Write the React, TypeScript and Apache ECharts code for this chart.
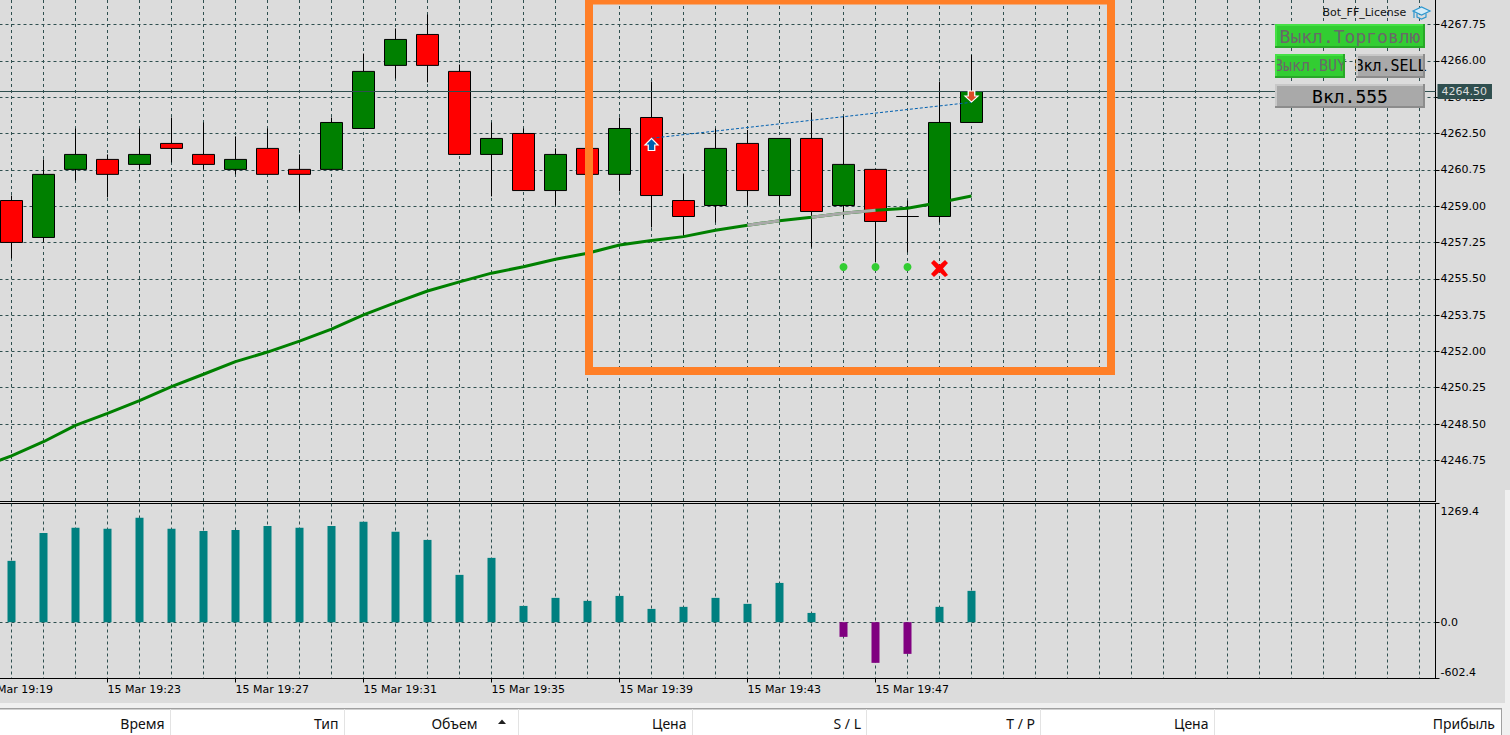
import React, { useEffect, useRef } from "react";
import * as echarts from "echarts";

const minutes = [
  "19:19","19:20","19:21","19:22","19:23","19:24","19:25","19:26","19:27","19:28","19:29","19:30",
  "19:31","19:32","19:33","19:34","19:35","19:36","19:37","19:38","19:39","19:40","19:41","19:42",
  "19:43","19:44","19:45","19:46","19:47","19:48","19:49","19:50","19:51","19:52","19:53","19:54",
  "19:55","19:56","19:57","19:58","19:59","20:00","20:01","20:02","20:03","20:04",
];
const categories = minutes.map((m) => "15 Mar " + m);

const opens = [4259.27,4257.49,4260.77,4261.25,4261.01,4262.02,4261.49,4260.77,4261.78,4260.77,4260.77,4262.74,4265.78,4267.27,4265.49,4261.49,4262.50,4259.75,4261.78,4260.53,4263.27,4259.27,4259.03,4262.02,4259.51,4262.26,4259.03,4260.77,4258.50,4258.50,4263.03];
const closes = [4257.25,4260.53,4261.49,4260.53,4261.49,4261.78,4261.01,4261.25,4260.53,4260.53,4263.03,4265.49,4267.03,4265.78,4261.49,4262.26,4259.75,4261.49,4260.53,4262.74,4259.51,4258.50,4261.78,4259.75,4262.26,4258.74,4261.01,4258.26,4258.50,4263.03,4264.52];
const lows = [4256.48,4257.25,4260.24,4259.42,4260.77,4261.10,4260.77,4260.53,4260.53,4258.74,4260.77,4262.74,4265.15,4264.96,4261.49,4259.47,4259.75,4259.03,4260.53,4259.71,4257.97,4257.54,4258.21,4259.03,4259.03,4257.01,4258.50,4256.29,4256.77,4258.21,4263.03];
const highs = [4259.51,4261.25,4262.74,4261.49,4262.74,4263.27,4263.03,4262.36,4262.74,4261.49,4263.27,4266.35,4267.56,4268.23,4265.82,4263.03,4262.74,4261.78,4261.78,4263.27,4265.00,4260.57,4262.74,4262.67,4262.26,4263.51,4263.32,4260.77,4259.27,4265.00,4266.28];

const maValues = [4246.39,4246.97,4247.65,4248.44,4249.02,4249.63,4250.30,4250.90,4251.51,4251.97,4252.50,4253.07,4253.76,4254.35,4254.91,4255.35,4255.77,4256.08,4256.44,4256.73,4257.13,4257.34,4257.53,4257.84,4258.08,4258.30,4258.46,4258.66,4258.80,4258.90,4259.17,4259.49];
const maGrayRunA = [24, 25];
const maGrayRunB = [26, 27, 28];

const histValues = [656,955,1009,998,1116,998,976,987,1030,1009,1030,1073,966,880,506,688,174,260,228,281,142,164,260,196,420,99,-157,-435,-339,164,335];

const priceTicks = [4267.75,4266.0,4264.25,4262.5,4260.75,4259.0,4257.25,4255.5,4253.75,4252.0,4250.25,4248.5,4246.75];
const priceMin = 4244.77;
const priceMax = 4268.93;
const histTicks = [-602.4, 0, 1269.4];
const bidLevel = 4264.52;
const bidLabel = "4264.50";

const dotBars = [27, 28, 29];
const dotPrice = 4256.07;
const failBar = 30;
const failPrice = 4255.99;
const entryBar = 21;
const entryArrowPrice = 4261.97;
const exitBar = 31;
const exitArrowPrice = 4264.28;
const tradeOpenPrice = 4262.27;
const tradeClosePrice = 4264.0;

const tableHeaders: [string, number][] = [
  ["Время", 164.5],["Тип", 338.5],["Объем", 477.5],["Цена", 686.5],["S / L", 861],["T / P", 1035],["Цена", 1208.5],["Прибыль", 1495],
];
const tableSeparators = [170.5, 344.5, 518.5, 692.5, 866.5, 1040.5, 1214.5];

const INK = "#000000";
const GRID = "#2F4F4F";
const BG = "#DCDCDC";
const UI = "DejaVu Sans";
const MONO = "DejaVu Sans Mono";
const ORANGE = "#FF7F27";

const X_PATH = "path://M0 3 L3 0 L8.5 5 L14 0 L17 3 L12 8.5 L17 15 L14 17 L8.5 12 L3 17 L0 14 L5 8.5 Z";
const UP_PATH = "path://M6 0 L12 6 L9 6 L9 11 L3 11 L3 6 L0 6 Z";
const DOWN_PATH = "path://M3 0 L9 0 L9 5 L12 5 L6 11 L0 5 L3 5 Z";

function button(x: number, y: number, w: number, h: number, label: string, fontSize: number, fill: string, light: string, dark: string, textColor: string) {
  const b = 2;
  return [
    { type: "rect", z: 20, shape: { x, y, width: w, height: h }, style: { fill } },
    { type: "text", z: 21, style: { text: label, x: x + w / 2, y: y + h / 2, fill: textColor, fontFamily: MONO, fontSize, textAlign: "center", textVerticalAlign: "middle" } },
    { type: "rect", z: 22, shape: { x, y, width: w, height: b }, style: { fill: light } },
    { type: "rect", z: 22, shape: { x, y, width: b, height: h }, style: { fill: light } },
    { type: "rect", z: 22, shape: { x, y: y + h - b, width: w, height: b }, style: { fill: dark } },
    { type: "rect", z: 22, shape: { x: x + w - b, y, width: b, height: h }, style: { fill: dark } },
  ];
}

function tableElements() {
  const out: any[] = [
    { type: "rect", z: 15, shape: { x: 0, y: 703, width: 1510, height: 32 }, style: { fill: "#F0F0F0" } },
    { type: "rect", z: 15, shape: { x: 1505, y: 490, width: 5, height: 245 }, style: { fill: "#F0F0F0" } },
    { type: "rect", z: 16, shape: { x: 0, y: 708, width: 1502, height: 27 }, style: { fill: "#A0A0A0" } },
    { type: "rect", z: 17, shape: { x: 0, y: 709.5, width: 1501, height: 26 }, style: { fill: "#FFFFFF" } },
    { type: "polygon", z: 18, shape: { points: [[498, 724], [506, 724], [502, 719.5]] }, style: { fill: "#202020" } },
  ];
  tableSeparators.forEach((x) => {
    out.push({ type: "line", z: 18, shape: { x1: x, y1: 709, x2: x, y2: 735 }, style: { stroke: "#E3E3E3", lineWidth: 1 } });
  });
  tableHeaders.forEach(([text, x]) => {
    out.push({ type: "text", z: 18, style: { text, x, y: 723, fill: "#111111", fontFamily: "Noto Sans", fontSize: 14, textAlign: "right", textVerticalAlign: "middle" } });
  });
  return out;
}

function overlayElements() {
  return [
    { type: "rect", z: 30, shape: { x: 589, y: 0.5, width: 522, height: 370.5 }, style: { fill: "transparent", stroke: ORANGE, lineWidth: 8 } },
    { type: "text", z: 20, style: { text: "Bot_FF_License", x: 1322.5, y: 12.5, fill: "#111111", fontFamily: UI, fontSize: 11, textAlign: "left", textVerticalAlign: "middle" } },
    { type: "polygon", z: 20, shape: { points: [[1413, 11], [1421.5, 7], [1430, 11], [1421.5, 15]] }, style: { fill: "#D5ECF8", stroke: "#2E97CF", lineWidth: 1.2 } },
    { type: "polyline", z: 20, shape: { points: [[1417, 13.5], [1417, 17], [1421.5, 19], [1426, 17], [1426, 13.5]] }, style: { fill: "none", stroke: "#2E97CF", lineWidth: 1.2 } },
    { type: "line", z: 20, shape: { x1: 1414, y1: 11, x2: 1414, y2: 18 }, style: { stroke: "#2E97CF", lineWidth: 1.2 } },
    ...button(1275, 24, 150, 24, "Выкл.Торговлю", 18, "#32CD32", "#45E045", "#28A828", "#696969"),
    ...button(1275, 54, 70, 24, "Выкл.BUY", 15, "#32CD32", "#45E045", "#28A828", "#696969"),
    ...button(1356, 54, 69, 24, "Вкл.SELL", 15, "#A9A9A9", "#C8C8C8", "#8C8C8C", "#000000"),
    ...button(1275, 84, 150, 24, "Вкл.555", 18, "#A9A9A9", "#C8C8C8", "#8C8C8C", "#000000"),
  ];
}

function runOnly(run: number[]) {
  return maValues.map((v, i) => (run.includes(i) ? v : null));
}

function buildOption(): any {
  const candleData: any[] = [["-", "-", "-", "-"]].concat(
    opens.map((o, i) => [o, closes[i], lows[i], highs[i]]) as any
  );
  const histData: any[] = ["-", ...histValues];
  const tradeLine = categories.map((_, i) => (i === entryBar ? tradeOpenPrice : i === exitBar ? tradeClosePrice : null));
  const everyFour = (i: number) => i % 4 === 0 && i <= 28;
  const vSplit = { show: true, interval: 0, alignWithLabel: true, lineStyle: { color: GRID, type: [3, 3], width: 1 } };

  return {
    animation: false,
    backgroundColor: BG,
    textStyle: { fontFamily: UI },
    grid: [
      { left: -36.5, width: 1472, top: 0, height: 501.5, outerBoundsMode: "none" },
      { left: -36.5, width: 1472, top: 503.5, height: 175, outerBoundsMode: "none", show: true, borderColor: INK, borderWidth: 1, backgroundColor: "transparent" },
    ],
    xAxis: [
      {
        type: "category", gridIndex: 0, data: categories, boundaryGap: true, position: "bottom",
        axisLine: { show: true, onZero: false, lineStyle: { color: INK, width: 1 } },
        axisTick: { show: false }, axisLabel: { show: false }, splitLine: vSplit,
      },
      {
        type: "category", gridIndex: 1, data: categories, boundaryGap: true, position: "bottom",
        axisLine: { show: true, onZero: false, lineStyle: { color: INK, width: 1 } },
        axisTick: { show: true, alignWithLabel: true, interval: everyFour, length: 4, lineStyle: { color: INK } },
        axisLabel: { show: true, interval: everyFour, align: "left", margin: 5, color: INK, fontFamily: UI, fontSize: 11 },
        splitLine: vSplit,
      },
    ],
    yAxis: [
      {
        type: "value", gridIndex: 0, position: "right", min: priceMin, max: priceMax, scale: true,
        axisLine: { show: true, onZero: false, lineStyle: { color: INK, width: 1 } },
        axisTick: { show: true, length: 4, customValues: priceTicks, lineStyle: { color: INK } },
        axisLabel: { show: true, customValues: priceTicks, margin: 5, color: INK, fontFamily: UI, fontSize: 11, formatter: (v: number) => v.toFixed(2) },
        splitLine: { show: true, customValues: priceTicks, lineStyle: { color: GRID, type: [3, 3], width: 1 } },
      },
      {
        type: "value", gridIndex: 1, position: "right", min: histTicks[0], max: histTicks[2],
        axisLine: { show: true, onZero: false, lineStyle: { color: INK, width: 1 } },
        axisTick: { show: true, length: 4, customValues: histTicks, lineStyle: { color: INK } },
        axisLabel: {
          show: true, customValues: histTicks, margin: 5, color: INK, fontFamily: UI, fontSize: 11, padding: [2, 0, 1, 0],
          verticalAlignMinLabel: "bottom", verticalAlignMaxLabel: "top", formatter: (v: number) => v.toFixed(1),
        },
        splitLine: { show: true, showMinLine: false, showMaxLine: false, customValues: histTicks, lineStyle: { color: GRID, type: [3, 3], width: 1 } },
      },
    ],
    series: [
      {
        type: "candlestick", xAxisIndex: 0, yAxisIndex: 0, barWidth: 22, data: candleData, silent: true,
        itemStyle: { color: "#008000", color0: "#FF0000", borderColor: INK, borderColor0: INK, borderColorDoji: INK, borderWidth: 1 },
        markLine: {
          silent: true, symbol: "none", animation: false,
          lineStyle: { color: GRID, type: "solid", width: 1 },
          label: { show: true, position: "end", distance: 2, formatter: bidLabel, color: "#DCDCDC", backgroundColor: GRID, padding: [2, 5, 2, 4], fontFamily: UI, fontSize: 11 },
          data: [{ yAxis: bidLevel }],
        },
      },
      { type: "line", xAxisIndex: 0, yAxisIndex: 0, data: maValues, symbol: "none", silent: true, z: 5, lineStyle: { color: "#008000", width: 3 } },
      { type: "line", xAxisIndex: 0, yAxisIndex: 0, data: runOnly(maGrayRunA), symbol: "none", silent: true, z: 6, lineStyle: { color: "#A9A9A9", width: 3 } },
      { type: "line", xAxisIndex: 0, yAxisIndex: 0, data: runOnly(maGrayRunB), symbol: "none", silent: true, z: 6, lineStyle: { color: "#A9A9A9", width: 3 } },
      { type: "line", xAxisIndex: 0, yAxisIndex: 0, data: tradeLine, connectNulls: true, symbol: "none", silent: true, z: 7, lineStyle: { color: "#0060B0", width: 1, type: [3, 2] } },
      { type: "scatter", xAxisIndex: 0, yAxisIndex: 0, data: dotBars.map((b) => [b, dotPrice]), symbol: "circle", symbolSize: 8, silent: true, z: 8, itemStyle: { color: "#32CD32", opacity: 1 } },
      { type: "scatter", xAxisIndex: 0, yAxisIndex: 0, data: [[failBar, failPrice]], symbol: X_PATH, symbolSize: [17, 17], silent: true, z: 8, itemStyle: { color: "#FF0000", opacity: 1 } },
      { type: "scatter", xAxisIndex: 0, yAxisIndex: 0, data: [[entryBar, entryArrowPrice]], symbol: UP_PATH, symbolSize: [13, 12], silent: true, z: 8, itemStyle: { color: "#0060B0", borderColor: "#FFFFFF", borderWidth: 1.2, opacity: 1 } },
      { type: "scatter", xAxisIndex: 0, yAxisIndex: 0, data: [[exitBar, exitArrowPrice]], symbol: DOWN_PATH, symbolSize: [13, 11], silent: true, z: 8, itemStyle: { color: "#DC4B28", borderColor: "#FFFFFF", borderWidth: 1.2, opacity: 1 } },
      {
        type: "bar", xAxisIndex: 1, yAxisIndex: 1, barWidth: 8, data: histData, silent: true,
        itemStyle: { color: (p: any) => (p.value < 0 ? "#800080" : "#008080") },
      },
    ],
    graphic: { elements: [...tableElements(), ...overlayElements()] },
  };
}

export default function App() {
  const ref = useRef<HTMLDivElement>(null);
  useEffect(() => {
    document.body.style.margin = "0";
    document.body.style.overflow = "hidden";
    const chart = echarts.init(ref.current!, undefined, { renderer: "svg" });
    chart.setOption(buildOption());
    return () => chart.dispose();
  }, []);
  return <div ref={ref} style={{ width: 1510, height: 735 }} />;
}
